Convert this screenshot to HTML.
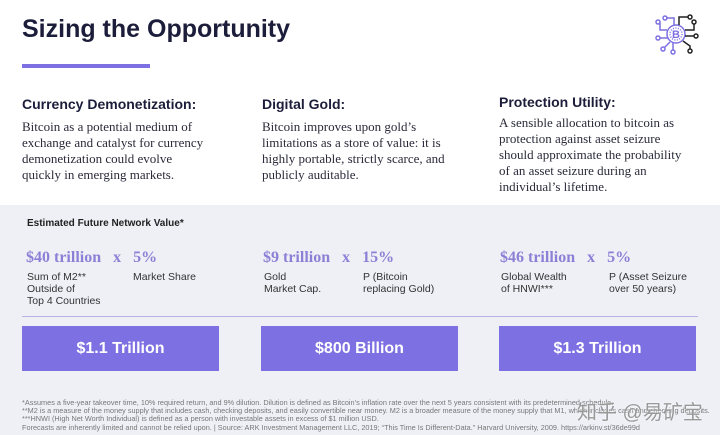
<!DOCTYPE html>
<html><head><meta charset="utf-8"><style>
body{margin:0;width:720px;height:435px;overflow:hidden;background:#fff;font-family:"Liberation Sans",sans-serif;position:relative}
.a{position:absolute;margin:0;white-space:nowrap}
h1{position:absolute;left:22px;top:15px;margin:0;font-size:25px;font-weight:bold;color:#1c1d3a}
.hd{font-size:14px;font-weight:bold;color:#1c1d3a;top:96px}
.bd{font-family:"Liberation Serif",serif;font-size:13px;line-height:16px;color:#2a2a3a;top:119px}
.num{font-family:"Liberation Serif",serif;font-weight:bold;font-size:16px;color:#8c80d6;top:249px}
.lb{font-size:10.5px;line-height:12px;color:#333;top:271px}
.btn{position:absolute;top:326px;width:197px;height:45px;background:#7d70e2;color:#fff;font-weight:bold;font-size:16px;display:flex;align-items:center;justify-content:center}
.fn{font-size:7.3px;color:#777;left:22px}
</style></head><body>
<h1>Sizing the Opportunity</h1>
<div class="a" style="left:22px;top:64px;width:128px;height:4px;background:#7d70e2"></div>
<svg class="a" style="left:652px;top:8px" width="50" height="48" viewBox="0 0 50 48">
<g fill="none" stroke="#7d70e2" stroke-width="1.5"><circle cx="24" cy="26" r="9"/><circle cx="24" cy="26" r="6" stroke-dasharray="1 1.5"/>
<path d="M15 22H8V15M16 30H8M18 34L12 40M22 17V10H14M21 35V42"/><circle cx="6" cy="14" r="2"/><circle cx="6" cy="30" r="2"/><circle cx="11" cy="41" r="2"/><circle cx="13" cy="10" r="2"/><circle cx="21" cy="44" r="2"/></g>
<g fill="none" stroke="#222" stroke-width="1.5"><path d="M27 17V9H36M33 22H42V16M33 28H42M31 33L38 38V41"/><circle cx="38" cy="9" r="2"/><circle cx="42" cy="14" r="2"/><circle cx="44" cy="28" r="2"/><circle cx="38" cy="43" r="2"/></g>
<text x="24" y="30" font-size="11" font-weight="bold" fill="#7d70e2" text-anchor="middle" font-family="Liberation Sans">B</text></svg>
<p class="a hd" style="left:22px">Currency Demonetization:</p>
<p class="a bd" style="left:22px">Bitcoin as a potential medium of<br>exchange and catalyst for currency<br>demonetization could evolve<br>quickly in emerging markets.</p>
<p class="a hd" style="left:262px">Digital Gold:</p>
<p class="a bd" style="left:262px">Bitcoin improves upon gold’s<br>limitations as a store of value: it is<br>highly portable, strictly scarce, and<br>publicly auditable.</p>
<p class="a hd" style="left:499px;top:94px">Protection Utility:</p>
<p class="a bd" style="left:499px;top:115px">A sensible allocation to bitcoin as<br>protection against asset seizure<br>should approximate the probability<br>of an asset seizure during an<br>individual’s lifetime.</p>
<div class="a" style="left:0;top:205px;width:720px;height:230px;background:#eef0f6"></div>
<p class="a" style="left:27px;top:218px;font-size:10px;font-weight:bold;color:#222">Estimated Future Network Value*</p>
<p class="a num" style="left:26px">$40 trillion &nbsp;&nbsp;x &nbsp;&nbsp;5%</p>
<p class="a lb" style="left:27px">Sum of M2**<br>Outside of<br>Top 4 Countries</p>
<p class="a lb" style="left:133px">Market Share</p>
<p class="a num" style="left:263px">$9 trillion &nbsp;&nbsp;x &nbsp;&nbsp;15%</p>
<p class="a lb" style="left:264px">Gold<br>Market Cap.</p>
<p class="a lb" style="left:363px">P (Bitcoin<br>replacing Gold)</p>
<p class="a num" style="left:500px">$46 trillion &nbsp;&nbsp;x &nbsp;&nbsp;5%</p>
<p class="a lb" style="left:501px">Global Wealth<br>of HNWI***</p>
<p class="a lb" style="left:609px">P (Asset Seizure<br>over 50 years)</p>
<div class="a" style="left:22px;top:316px;width:676px;height:1px;background:#b8b3e6"></div>
<div class="btn" style="left:22px">$1.1 Trillion</div>
<div class="btn" style="left:261px">$800 Billion</div>
<div class="btn" style="left:499px">$1.3 Trillion</div>
<p class="a fn" style="top:398px">*Assumes a five-year takeover time, 10% required return, and 9% dilution. Dilution is defined as Bitcoin’s inflation rate over the next 5 years consistent with its predetermined schedule.</p>
<p class="a fn" style="top:406px">**M2 is a measure of the money supply that includes cash, checking deposits, and easily convertible near money. M2 is a broader measure of the money supply that M1, which includes cash and checking deposits.</p>
<p class="a fn" style="top:414px">***HNWI (High Net Worth Individual) is defined as a person with investable assets in excess of $1 million USD.</p>
<p class="a fn" style="top:423px">Forecasts are inherently limited and cannot be relied upon. | Source: ARK Investment Management LLC, 2019; “This Time Is Different-Data.” Harvard University, 2009. https://arkinv.st/36de99d</p>
<p class="a" style="left:577px;top:396px;font-size:20px;color:#999;font-family:'Liberation Sans','Noto Sans CJK SC',sans-serif;text-shadow:0 0 2px #fff">知乎 @易矿宝</p>
</body></html>
